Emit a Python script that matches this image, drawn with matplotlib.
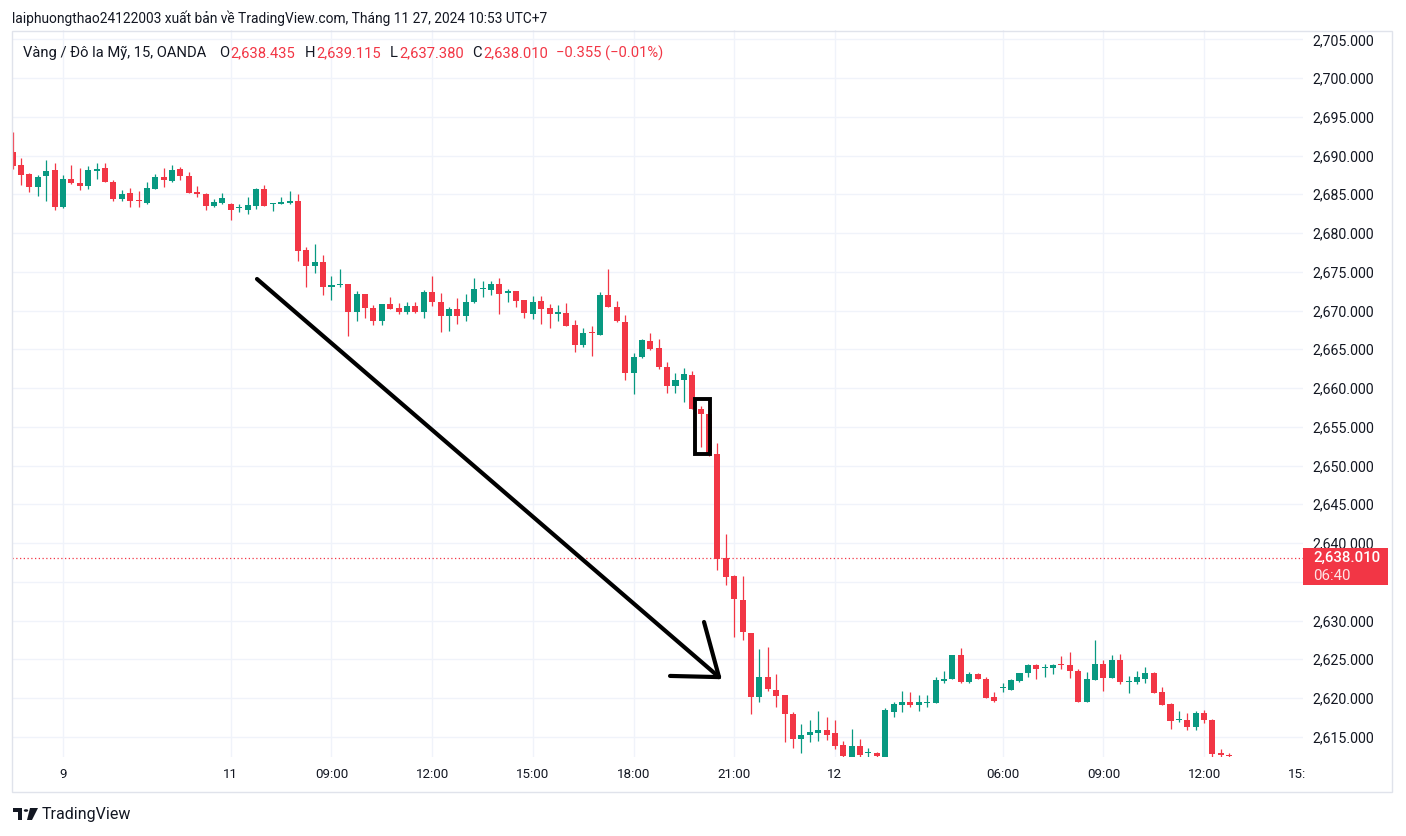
import numpy as np
import pandas as pd
import matplotlib
matplotlib.use('Agg')
import matplotlib.pyplot as plt
from matplotlib.patches import Rectangle, Polygon, Circle
from matplotlib.transforms import Bbox, TransformedBbox

# ---------------- data (XAU/USD, 15 min, UTC+7) ----------------
seg1 = pd.date_range('2024-11-08 22:30', '2024-11-09 04:45', freq='15min')
seg2 = pd.date_range('2024-11-11 06:00', '2024-11-12 04:45', freq='15min')
seg3 = pd.date_range('2024-11-12 06:00', '2024-11-12 12:45', freq='15min')
times = seg1.append(seg2).append(seg3)

open_ = [2690.4, 2688.8, 2687.6, 2686.0, 2687.3, 2688.1, 2683.3, 2687.0, 2686.5, 2686.1,
         2688.05, 2688.4, 2686.6, 2684.4, 2685.2, 2684.15, 2683.9, 2685.7, 2687.2, 2686.7,
         2688.3, 2687.4, 2685.3, 2685.0, 2683.5, 2683.9, 2683.8, 2683.2, 2683.0, 2683.5,
         2685.7, 2683.8, 2683.7, 2683.9, 2684.15, 2677.8, 2675.8, 2676.3, 2673.1, 2673.25,
         2673.4, 2669.8, 2672.15, 2670.35, 2668.7, 2670.85, 2670.35, 2669.85, 2670.6, 2669.75,
         2672.4, 2671.1, 2669.35, 2670.2, 2669.35, 2671.05, 2672.75, 2672.7, 2673.45, 2672.2,
         2672.55, 2671.4, 2669.6, 2671.25, 2670.35, 2669.5, 2669.7, 2668.15, 2665.5, 2667.1,
         2666.9, 2672.0, 2670.5, 2668.55, 2662.0, 2663.95, 2666.1, 2665.2, 2662.75, 2660.2,
         2661.0, 2661.7, 2657.35, 2656.6, 2651.5, 2638.05, 2635.7, 2632.7, 2628.35, 2620.15,
         2622.65, 2621.1, 2620.35, 2618.0, 2614.7, 2615.25, 2615.5, 2615.85, 2615.45, 2613.9,
         2612.4, 2613.75, 2612.9, 2612.9, 2612.4, 2618.15, 2619.1, 2619.45, 2619.1, 2619.4,
         2619.3, 2622.15, 2622.4, 2625.5, 2622.05, 2623.05, 2622.5, 2620.1, 2621.25, 2621.1,
         2622.15, 2623.2, 2624.2, 2623.9, 2623.85, 2624.35, 2624.2, 2623.55, 2619.5, 2622.3,
         2624.35, 2622.6, 2624.85, 2622.1, 2622.05, 2622.4, 2623.2, 2620.75, 2619.2, 2617.1,
         2617.1, 2616.25, 2618.05, 2617.15, 2612.85, 2612.7]
high = [2693.1, 2689.7, 2687.8, 2687.5, 2689.4, 2689.0, 2687.5, 2688.8, 2688.4, 2688.7,
        2689.0, 2689.1, 2686.8, 2685.6, 2685.8, 2685.4, 2686.6, 2687.6, 2688.4, 2688.8,
        2688.5, 2687.9, 2686.1, 2685.2, 2684.4, 2685.2, 2683.9, 2683.8, 2684.6, 2685.8,
        2686.2, 2683.9, 2684.7, 2685.4, 2685.1, 2678.2, 2678.6, 2677.2, 2674.5, 2675.4,
        2673.4, 2672.5, 2672.15, 2670.7, 2670.9, 2671.8, 2671.0, 2671.1, 2671.1, 2672.7,
        2674.5, 2672.3, 2670.4, 2671.6, 2672.15, 2674.2, 2673.8, 2673.8, 2674.2, 2672.8,
        2672.55, 2671.4, 2671.9, 2671.9, 2670.9, 2670.75, 2671.0, 2668.8, 2667.8, 2668.0,
        2672.4, 2675.4, 2671.25, 2669.45, 2664.55, 2666.35, 2667.1, 2666.35, 2663.4, 2662.0,
        2662.6, 2662.25, 2657.65, 2656.8, 2652.9, 2641.2, 2635.85, 2635.7, 2628.35, 2626.3,
        2626.55, 2623.05, 2620.35, 2618.2, 2616.6, 2617.1, 2618.3, 2617.5, 2617.1, 2614.4,
        2616.0, 2614.65, 2613.5, 2613.05, 2618.65, 2619.55, 2620.85, 2620.75, 2620.35, 2620.35,
        2622.65, 2623.45, 2625.5, 2626.4, 2623.3, 2623.2, 2622.65, 2620.75, 2621.9, 2622.4,
        2623.2, 2624.35, 2624.35, 2624.35, 2624.35, 2625.4, 2625.9, 2623.7, 2623.3, 2627.45,
        2624.85, 2625.5, 2625.65, 2622.9, 2623.45, 2623.95, 2623.3, 2621.4, 2619.3, 2618.3,
        2618.05, 2618.3, 2618.4, 2617.3, 2613.4, 2612.95]
low = [2688.3, 2686.2, 2685.3, 2684.8, 2684.1, 2683.0, 2683.2, 2686.3, 2685.6, 2685.7,
       2687.0, 2686.6, 2684.1, 2684.1, 2683.4, 2683.4, 2683.8, 2685.7, 2686.0, 2686.6,
       2686.9, 2685.2, 2684.7, 2683.0, 2683.4, 2683.8, 2681.7, 2682.7, 2682.5, 2683.1,
       2683.5, 2682.9, 2683.7, 2683.7, 2676.4, 2673.0, 2674.9, 2672.0, 2671.4, 2673.0,
       2666.7, 2668.7, 2669.0, 2668.15, 2668.15, 2670.2, 2669.6, 2669.6, 2669.7, 2669.1,
       2670.6, 2667.2, 2667.4, 2668.3, 2668.6, 2671.0, 2671.8, 2672.05, 2669.6, 2671.1,
       2670.4, 2669.1, 2668.85, 2668.3, 2667.8, 2668.6, 2668.0, 2664.7, 2665.35, 2664.1,
       2666.8, 2670.5, 2668.55, 2661.1, 2659.2, 2663.9, 2664.95, 2662.4, 2659.4, 2659.3,
       2658.15, 2657.3, 2652.35, 2651.2, 2636.5, 2634.55, 2627.85, 2627.5, 2617.9, 2619.5,
       2620.9, 2618.85, 2614.35, 2613.6, 2612.9, 2614.35, 2614.45, 2614.6, 2613.45, 2612.2,
       2612.1, 2612.2, 2612.2, 2612.2, 2612.2, 2617.5, 2618.15, 2618.9, 2618.3, 2618.8,
       2619.3, 2621.9, 2622.4, 2622.0, 2622.0, 2622.4, 2620.0, 2619.45, 2620.75, 2621.0,
       2622.1, 2622.65, 2622.4, 2622.7, 2623.1, 2623.75, 2622.6, 2619.45, 2619.45, 2622.3,
       2620.9, 2622.55, 2621.8, 2620.65, 2621.8, 2621.9, 2620.6, 2619.05, 2616.0, 2616.9,
       2615.9, 2615.9, 2616.8, 2612.2, 2612.2, 2612.2]
close = [2688.7, 2687.5, 2686.0, 2687.2, 2688.0, 2683.3, 2687.0, 2686.5, 2686.1, 2688.1,
         2688.3, 2686.6, 2684.4, 2685.0, 2684.1, 2684.1, 2685.8, 2687.2, 2686.8, 2688.1,
         2687.3, 2685.2, 2685.1, 2683.5, 2684.0, 2684.5, 2683.0, 2683.25, 2683.6, 2685.7,
         2683.5, 2683.85, 2684.05, 2684.15, 2677.7, 2675.8, 2676.3, 2673.1, 2673.3, 2673.3,
         2669.8, 2672.15, 2670.35, 2668.7, 2670.85, 2670.25, 2669.85, 2670.6, 2669.75, 2672.4,
         2671.05, 2669.35, 2670.2, 2669.35, 2671.1, 2672.8, 2672.8, 2673.45, 2672.15, 2672.55,
         2671.25, 2669.7, 2671.1, 2670.15, 2669.5, 2669.75, 2668.05, 2665.6, 2667.1, 2667.05,
         2672.0, 2670.5, 2668.6, 2662.0, 2664.0, 2666.2, 2665.1, 2662.65, 2660.2, 2661.05,
         2661.85, 2657.35, 2656.6, 2651.5, 2637.95, 2635.6, 2632.75, 2628.5, 2620.15, 2622.65,
         2621.15, 2620.3, 2617.95, 2614.7, 2615.25, 2615.6, 2615.85, 2615.25, 2613.8, 2612.5,
         2613.75, 2612.6, 2612.95, 2612.5, 2618.4, 2619.2, 2619.45, 2619.1, 2619.45, 2619.45,
         2622.3, 2622.4, 2625.5, 2622.05, 2623.05, 2622.45, 2620.0, 2619.6, 2621.3, 2622.3,
         2623.2, 2624.2, 2623.8, 2623.95, 2624.3, 2624.3, 2623.5, 2619.5, 2622.4, 2624.35,
         2622.6, 2624.85, 2622.05, 2622.15, 2622.65, 2623.2, 2620.65, 2619.1, 2617.05, 2617.15,
         2616.25, 2618.05, 2617.15, 2612.75, 2612.6, 2612.5]

price_ticks = [2615, 2620, 2625, 2630, 2635, 2640, 2645, 2650, 2655, 2660,
               2665, 2670, 2675, 2680, 2685, 2690, 2695, 2700, 2705]
tick_times = ['2024-11-09 00:00', '2024-11-11 06:00', '2024-11-11 09:00', '2024-11-11 12:00',
              '2024-11-11 15:00', '2024-11-11 18:00', '2024-11-11 21:00', '2024-11-12 00:00',
              '2024-11-12 06:00', '2024-11-12 09:00', '2024-11-12 12:00', '2024-11-12 15:00']
tick_labels = ['9', '11', '09:00', '12:00', '15:00', '18:00', '21:00', '12',
               '06:00', '09:00', '12:00', '15:00']

last_price = 2638.010
header = "laiphuongthao24122003 xuất bản về TradingView.com, Tháng 11 27, 2024 10:53 UTC+7"
symbol = "Vàng / Đô la Mỹ, 15, OANDA"
ohlc_labels = ['O', 'H', 'L', 'C']
ohlc_values = ['2,638.435', '2,639.115', '2,637.380', '2,638.010']
change_text = "−0.355 (−0.01%)"
countdown = "06:40"

# annotation anchors (bar position, price)
arrow_start = (29.12, 2674.07)
arrow_tip = (84.19, 2622.70)
head_a = (82.40, 2629.81)
head_b = (78.35, 2622.85)
box_x = (81.27, 83.06)
box_y = (2651.55, 2658.59)

# ---------------- styling ----------------
RED = '#f23645'
GREEN = '#089981'
TXT = '#131722'
GRID = '#f0f3fa'

W, H = 1406, 836
plt.rcParams['font.family'] = ['Roboto', 'DejaVu Sans']
fig = plt.figure(figsize=(W / 100, H / 100), dpi=100)
fig.patch.set_facecolor('white')


def fx(px):
    return px / W


def fy(py):
    return 1 - py / H


ax = fig.add_axes([fx(12), fy(757), (1303 - 12) / W, (757 - 30) / H])
ax.set_facecolor('white')

o = np.array(open_); h = np.array(high); l = np.array(low); c = np.array(close)
x = np.arange(len(c))
up = c >= o
cols = np.where(up, GREEN, RED)

ax.vlines(x, l, h, colors=cols, lw=0.9, zorder=3)
bottom = np.minimum(o, c)
height = np.maximum(np.abs(c - o), 0.13)
ax.bar(x, height, bottom=bottom, width=0.72, color=cols, linewidth=0, zorder=4)

ax.set_xlim(-0.08, 153.79)
ax.set_ylim(2612.39, 2706.2)

# ticks
pos_map = {t: i for i, t in enumerate(times)}
tick_pos = []
for t in pd.to_datetime(tick_times):
    if t in pos_map:
        tick_pos.append(pos_map[t])
    else:
        tick_pos.append(len(times) - 1 + (t - times[-1]) / pd.Timedelta('15min'))
inside = [(p, lab) for p, lab in zip(tick_pos, tick_labels) if p <= 153.79]
ax.set_xticks([p for p, _ in inside])
ax.set_xticklabels([lab for _, lab in inside], fontsize=9.6, color=TXT)
ax.tick_params(axis='x', length=0, pad=8)

# price scale: the label under the last-price box is hidden, as in TradingView
ax.yaxis.tick_right()
ax.set_yticks(price_ticks)
hidden = [v for v in price_ticks if abs(v - last_price) < 4]
ax.set_yticklabels(['' if abs(v - last_price) < 4 and v < last_price else f"{v:,.3f}"
                    for v in price_ticks], fontsize=10.2, color=TXT)
ax.tick_params(axis='y', length=0, pad=7)

ax.grid(True, color=GRID, lw=1.0, zorder=0)
ax.set_axisbelow(True)
for s in ax.spines.values():
    s.set_visible(False)

# clipped "15:00" at right edge
for p, lab in zip(tick_pos, tick_labels):
    if p > 153.79:
        xd = ax.transData.transform((p, 2612.39))[0]
        t = fig.text(xd / W, fy(774), lab, ha='center', va='center', fontsize=9.6, color=TXT)
        t.set_clip_box(TransformedBbox(Bbox([[0, 0], [1304.5 / W, 1]]), fig.transFigure))
        t.set_clip_on(True)

# last price line
ax.axhline(last_price, color=RED, lw=0.9, ls=(0, (1, 2)), zorder=2)

# drawings
dk = dict(color='black', lw=3.0, solid_capstyle='round', zorder=6)
ax.plot([arrow_start[0], arrow_tip[0]], [arrow_start[1], arrow_tip[1]], **dk)
ax.plot([head_a[0], arrow_tip[0]], [head_a[1], arrow_tip[1]], **dk)
ax.plot([head_b[0], arrow_tip[0]], [head_b[1], arrow_tip[1]], **dk)
ax.add_patch(Rectangle((box_x[0], box_y[0]), box_x[1] - box_x[0], box_y[1] - box_y[0],
                       fill=False, edgecolor='black', lw=2.8, zorder=6))

# frame
fig.add_artist(Rectangle((fx(12), fy(792)), (1392 - 12) / W, (792 - 31) / H,
                         transform=fig.transFigure, fill=False, edgecolor='#e0e3eb', lw=1))

# price label box
fig.add_artist(Rectangle((fx(1303), fy(585)), 85 / W, 37 / H, transform=fig.transFigure,
                         facecolor=RED, edgecolor='none', zorder=5))
fig.text(fx(1313), fy(558), f"{last_price:,.3f}", ha='left', va='center', fontsize=10.8,
         color='white', fontweight='medium', zorder=6)
fig.text(fx(1313), fy(576), countdown, ha='left', va='center', fontsize=10.8,
         color='#fde3e5', zorder=6)

# header and legend
fig.text(fx(12), fy(18), header, ha='left', va='center', fontsize=9.9, color=TXT)
fig.text(fx(23), fy(53), symbol, ha='left', va='center', fontsize=10.6, color=TXT)
lab_x = [219, 305, 390, 472]
val_x = [230, 316, 399, 483]
for lx, vx, lab, val in zip(lab_x, val_x, ohlc_labels, ohlc_values):
    fig.text(fx(lx), fy(53), lab, ha='left', va='center', fontsize=10.6, color=TXT)
    fig.text(fx(vx), fy(53), val, ha='left', va='center', fontsize=10.6, color=RED)
fig.text(fx(556), fy(53), change_text, ha='left', va='center', fontsize=10.6, color=RED)

# TradingView logo
fig.add_artist(Rectangle((fx(13), fy(812)), 9 / W, 4 / H, transform=fig.transFigure,
                         facecolor=TXT, edgecolor='none'))
fig.add_artist(Rectangle((fx(18), fy(820)), 4 / W, 12 / H, transform=fig.transFigure,
                         facecolor=TXT, edgecolor='none'))
fig.add_artist(Circle((fx(26), fy(810.5)), 2.2 / W, transform=fig.transFigure,
                      facecolor=TXT, edgecolor='none'))
fig.add_artist(Polygon([(fx(30), fy(808)), (fx(38), fy(808)), (fx(32), fy(820)), (fx(27), fy(820))],
                       closed=True, transform=fig.transFigure, facecolor=TXT, edgecolor='none'))
fig.text(fx(42), fy(815), "TradingView", ha='left', va='center', fontsize=11.5, color=TXT)

fig.savefig('out.png', dpi=100, facecolor='white')
